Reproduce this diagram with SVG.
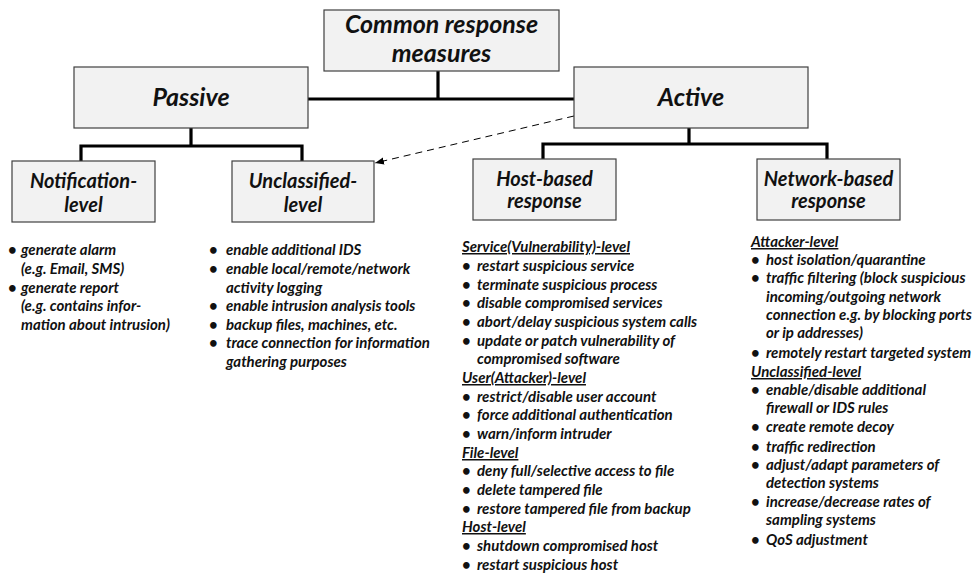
<svg xmlns="http://www.w3.org/2000/svg" width="979" height="574" viewBox="0 0 979 574">
  <style>
    .box { fill: #f2f2f2; stroke: #404040; stroke-width: 1.2; }
    .lbl { font-family: Lato, "Open Sans", "Liberation Sans", sans-serif; font-weight: bold; font-style: italic; fill: #111; text-anchor: middle; }
    .t1 { font-size: 25px; }
    .t2 { font-size: 25px; }
    .t3 { font-size: 20px; }
    .lst { font-family: Lato, "Open Sans", "Liberation Sans", sans-serif; font-weight: bold; font-style: italic; font-size: 15px; fill: #111; }
    .hd { text-decoration: underline; }
    .tree { fill: none; stroke: #000; stroke-width: 3.2; }
    .dash { fill: none; stroke: #000; stroke-width: 1; stroke-dasharray: 7 5; }
  </style>
  <defs>
    <marker id="arr" viewBox="0 0 10 10" refX="10" refY="5" markerWidth="9" markerHeight="9" markerUnits="userSpaceOnUse" orient="auto">
      <path d="M0,1 L10,5 L0,9 z" fill="#000"/>
    </marker>
  </defs>

  <!-- tree connectors -->
  <g id="connectors">
    <path class="tree" d="M438,71 V99 M308,99 H574"/>
    <path class="tree" d="M191,128 V146 M81,161 V146 H302 V161"/>
    <path class="tree" d="M689,128 V144 M543,159 V144 H827 V159"/>
    <path class="dash" d="M574,116 L375,163" marker-end="url(#arr)"/>
  </g>

  <g id="root">
    <rect class="box" x="324" y="10" width="235" height="61"/>
    <text class="lbl t1" x="441.5" y="33">Common response</text>
    <text class="lbl t1" x="441.5" y="62">measures</text>
  </g>

  <g id="passive">
    <rect class="box" x="74" y="67" width="234" height="61"/>
    <text class="lbl t2" x="191" y="106">Passive</text>
  </g>

  <g id="active">
    <rect class="box" x="574" y="67" width="234" height="61"/>
    <text class="lbl t2" x="691" y="106">Active</text>
  </g>

  <g id="notification">
    <rect class="box" x="12" y="161" width="143" height="61"/>
    <text class="lbl t3" x="83.5" y="188">Notification-</text>
    <text class="lbl t3" x="83.5" y="212">level</text>
  </g>

  <g id="unclassified">
    <rect class="box" x="232" y="161" width="142" height="61"/>
    <text class="lbl t3" x="303" y="188">Unclassified-</text>
    <text class="lbl t3" x="303" y="212">level</text>
  </g>

  <g id="host">
    <rect class="box" x="473" y="159" width="143" height="61"/>
    <text class="lbl t3" x="544.5" y="186">Host-based</text>
    <text class="lbl t3" x="544.5" y="208">response</text>
  </g>

  <g id="network">
    <rect class="box" x="757" y="159" width="143" height="61"/>
    <text class="lbl t3" x="828.5" y="186">Network-based</text>
    <text class="lbl t3" x="828.5" y="208">response</text>
  </g>

  <!-- measure lists -->
  <g id="notification-list" class="lst">
    <text x="8" y="255">•</text><text x="21" y="255">generate alarm</text>
    <text x="21" y="274">(e.g. Email, SMS)</text>
    <text x="8" y="293">•</text><text x="21" y="293">generate report</text>
    <text x="21" y="311">(e.g. contains infor-</text>
    <text x="21" y="330">mation about intrusion)</text>
  </g>

  <g id="unclassified-list" class="lst">
    <text x="209" y="255">•</text><text x="226" y="255">enable additional IDS</text>
    <text x="209" y="274">•</text><text x="226" y="274">enable local/remote/network</text>
    <text x="226" y="293">activity logging</text>
    <text x="209" y="311">•</text><text x="226" y="311">enable intrusion analysis tools</text>
    <text x="209" y="330">•</text><text x="226" y="330">backup files, machines, etc.</text>
    <text x="209" y="348">•</text><text x="226" y="348">trace connection for information</text>
    <text x="226" y="367">gathering purposes</text>
  </g>

  <g id="host-list" class="lst">
    <text class="hd" x="462" y="252">Service(Vulnerability)-level</text>
    <text x="462" y="271">•</text><text x="477" y="271">restart suspicious service</text>
    <text x="462" y="290">•</text><text x="477" y="290">terminate suspicious process</text>
    <text x="462" y="308">•</text><text x="477" y="308">disable compromised services</text>
    <text x="462" y="327">•</text><text x="477" y="327">abort/delay suspicious system calls</text>
    <text x="462" y="346">•</text><text x="477" y="346">update or patch vulnerability of</text>
    <text x="477" y="364">compromised software</text>
    <text class="hd" x="462" y="383">User(Attacker)-level</text>
    <text x="462" y="402">•</text><text x="477" y="402">restrict/disable user account</text>
    <text x="462" y="420">•</text><text x="477" y="420">force additional authentication</text>
    <text x="462" y="439">•</text><text x="477" y="439">warn/inform intruder</text>
    <text class="hd" x="462" y="458">File-level</text>
    <text x="462" y="476">•</text><text x="477" y="476">deny full/selective access to file</text>
    <text x="462" y="495">•</text><text x="477" y="495">delete tampered file</text>
    <text x="462" y="514">•</text><text x="477" y="514">restore tampered file from backup</text>
    <text class="hd" x="462" y="532">Host-level</text>
    <text x="462" y="551">•</text><text x="477" y="551">shutdown compromised host</text>
    <text x="462" y="570">•</text><text x="477" y="570">restart suspicious host</text>
  </g>

  <g id="network-list" class="lst">
    <text class="hd" x="751" y="247">Attacker-level</text>
    <text x="751" y="265">•</text><text x="766" y="265">host isolation/quarantine</text>
    <text x="751" y="283">•</text><text x="766" y="283">traffic filtering (block suspicious</text>
    <text x="766" y="302">incoming/outgoing network</text>
    <text x="766" y="320">connection e.g. by blocking ports</text>
    <text x="766" y="338">or ip addresses)</text>
    <text x="751" y="358">•</text><text x="766" y="358">remotely restart targeted system</text>
    <text class="hd" x="751" y="377">Unclassified-level</text>
    <text x="751" y="395">•</text><text x="766" y="395">enable/disable additional</text>
    <text x="766" y="413">firewall or IDS rules</text>
    <text x="751" y="432">•</text><text x="766" y="432">create remote decoy</text>
    <text x="751" y="452">•</text><text x="766" y="452">traffic redirection</text>
    <text x="751" y="470">•</text><text x="766" y="470">adjust/adapt parameters of</text>
    <text x="766" y="488">detection systems</text>
    <text x="751" y="507">•</text><text x="766" y="507">increase/decrease rates of</text>
    <text x="766" y="525">sampling systems</text>
    <text x="751" y="545">•</text><text x="766" y="545">QoS adjustment</text>
  </g>
</svg>
